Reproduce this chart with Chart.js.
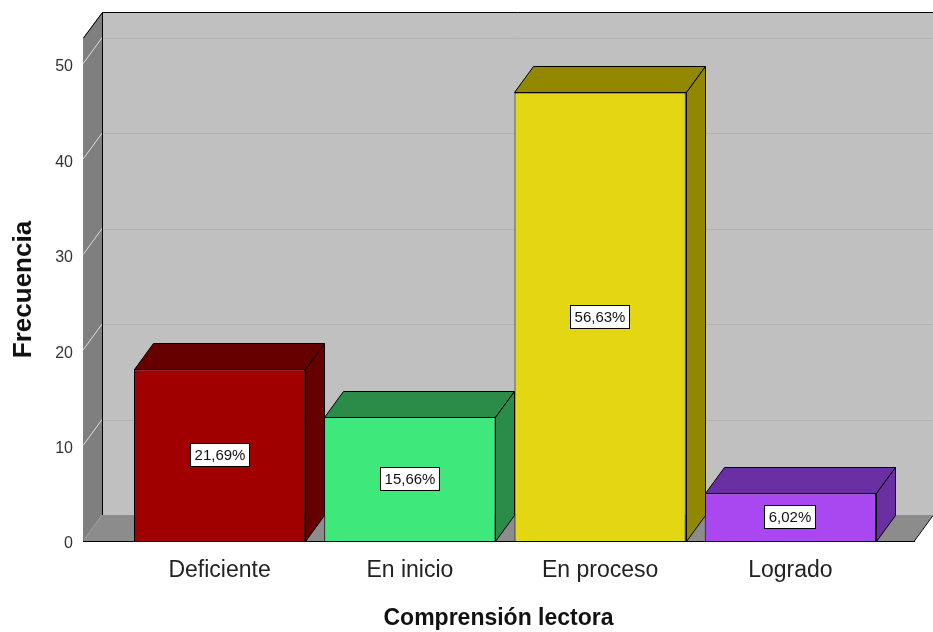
<!DOCTYPE html>
<html>
<head>
<meta charset="utf-8">
<script src="https://cdn.jsdelivr.net/npm/chart.js@4/dist/chart.umd.min.js"></script>
<style>
  html, body { margin: 0; background: #fff; }
  canvas { display: block; }
</style>
</head>
<body>
<canvas id="chart" width="933" height="632"></canvas>
<script>
// data
const categories = ['Deficiente', 'En inicio', 'En proceso', 'Logrado'];
const counts = [18, 13, 47, 5];
const pctLabels = ['21,69%', '15,66%', '56,63%', '6,02%'];
const yTicks = [0, 10, 20, 30, 40, 50];

const frontColors = ['#a00000', '#3ee87b', '#e3d612', '#a948f0'];
const sideColors = ['#660000', '#2a8c47', '#928800', '#6b2fa4'];

// depth of the fake 3d box
const DX = 19, DY = 26;
const FONT = "'Liberation Sans', Arial, sans-serif";

function poly(ctx, pts, fill, stroke) {
  ctx.beginPath();
  ctx.moveTo(pts[0][0], pts[0][1]);
  for (let i = 1; i < pts.length; i++) ctx.lineTo(pts[i][0], pts[i][1]);
  ctx.closePath();
  if (fill) { ctx.fillStyle = fill; ctx.fill(); }
  if (stroke) { ctx.strokeStyle = stroke; ctx.lineWidth = 1; ctx.stroke(); }
}

function line(ctx, x1, y1, x2, y2, color) {
  ctx.beginPath();
  ctx.moveTo(x1, y1); ctx.lineTo(x2, y2);
  ctx.strokeStyle = color; ctx.lineWidth = 1; ctx.stroke();
}

const box3d = {
  id: 'box3d',
  beforeDatasetsDraw(chart) {
    const { ctx, chartArea: a, scales: { y } } = chart;
    ctx.save();
    // back wall
    ctx.fillStyle = '#c0c0c0';
    ctx.fillRect(a.left + DX, a.top - DY, a.right - a.left, a.bottom - a.top);
    yTicks.forEach(v => {
      const py = Math.round(y.getPixelForValue(v) - DY) + 0.5;
      if (v > 0) line(ctx, a.left + DX, py, a.right + DX, py, '#b2b2b2');
    });
    // left wall
    poly(ctx, [[a.left, a.top], [a.left + DX, a.top - DY], [a.left + DX, a.bottom - DY], [a.left, a.bottom]], '#7f7f7f');
    yTicks.forEach(v => {
      const py = y.getPixelForValue(v);
      if (v > 0) line(ctx, a.left, py, a.left + DX, py - DY, '#dcdcdc');
    });
    // floor
    poly(ctx, [[a.left, a.bottom], [a.right, a.bottom], [a.right + DX, a.bottom - DY], [a.left + DX, a.bottom - DY]], '#8c8c8c');
    // edges
    const L = a.left + 0.5, B = a.bottom + 0.5;
    line(ctx, L, a.top, L + DX, a.top - DY + 0.5, '#000');
    line(ctx, L + DX, a.top - DY + 0.5, a.right + DX, a.top - DY + 0.5, '#000');
    line(ctx, L + DX, a.top - DY, L + DX, a.bottom - DY, '#000');
    line(ctx, a.right, B, a.right + DX, B - DY, '#000');
    ctx.restore();
  },
  afterDatasetsDraw(chart) {
    const { ctx } = chart;
    const meta = chart.getDatasetMeta(0);
    ctx.save();
    meta.data.forEach((bar, i) => {
      const { x, y, base, width } = bar.getProps(['x', 'y', 'base', 'width'], true);
      const l = Math.round(x - width / 2) + 0.5, r = Math.round(x + width / 2) + 0.5;
      const t = Math.round(y) + 0.5, b = Math.round(base) + 0.5;
      poly(ctx, [[l, t], [r, t], [r + DX, t - DY], [l + DX, t - DY]], sideColors[i], '#000');
      poly(ctx, [[r, t], [r + DX, t - DY], [r + DX, b - DY], [r, b]], sideColors[i], '#000');
      // percentage label box
      ctx.font = '15px ' + FONT;
      const tw = ctx.measureText(pctLabels[i]).width;
      const bw = Math.round(tw + 8), bh = 23;
      const cx = Math.round(x), cy = Math.round((y + base) / 2);
      const bx = cx - Math.round(bw / 2) + 0.5, by = cy - Math.round(bh / 2) + 0.5;
      ctx.fillStyle = '#fff';
      ctx.fillRect(bx, by, bw, bh);
      ctx.strokeStyle = '#000'; ctx.lineWidth = 1;
      ctx.strokeRect(bx, by, bw, bh);
      ctx.fillStyle = '#111';
      ctx.textAlign = 'center'; ctx.textBaseline = 'middle';
      ctx.fillText(pctLabels[i], cx, cy + 1);
    });
    ctx.restore();
  }
};

new Chart(document.getElementById('chart'), {
  type: 'bar',
  data: {
    datasets: [{
      data: counts.map((v, i) => ({ x: i, y: v })),
      backgroundColor: frontColors,
      borderColor: '#000',
      borderWidth: 1,
      barPercentage: 0.9,
      categoryPercentage: 1.0
    }]
  },
  options: {
    responsive: false,
    animation: false,
    devicePixelRatio: 1,
    layout: { padding: { top: 38, right: 19, left: 0, bottom: 0 } },
    plugins: { legend: { display: false }, tooltip: { enabled: false } },
    scales: {
      x: {
        type: 'linear', offset: false, z: 1,
        min: -0.718, max: 3.65,
        afterBuildTicks: s => { s.ticks = categories.map((_, i) => ({ value: i })); },
        afterFit: s => { s.height = 91; },
        grid: { display: false, drawTicks: false },
        border: { display: true, color: '#000', width: 1 },
        ticks: {
          callback: v => categories[v],
          color: '#222', font: { family: FONT, size: 23 },
          padding: 16, maxRotation: 0, autoSkip: false
        },
        title: {
          display: true, text: 'Comprensión lectora', color: '#111',
          font: { family: FONT, size: 23, weight: 'bold' },
          padding: { top: 0, bottom: 0 }
        }
      },
      y: {
        min: 0, max: 52.7, z: 1,
        afterBuildTicks: s => { s.ticks = yTicks.map(v => ({ value: v })); },
        afterFit: s => { s.width = 83; },
        grid: { display: false, drawTicks: false },
        border: { display: true, color: '#000', width: 1 },
        ticks: { color: '#333', font: { family: FONT, size: 16 }, padding: 10, labelOffset: 3 },
        title: {
          display: true, text: 'Frecuencia', color: '#111',
          font: { family: FONT, size: 26, weight: 'bold' },
          padding: { top: 8, bottom: 0 }
        }
      }
    }
  },
  plugins: [box3d]
});
</script>
</body>
</html>
